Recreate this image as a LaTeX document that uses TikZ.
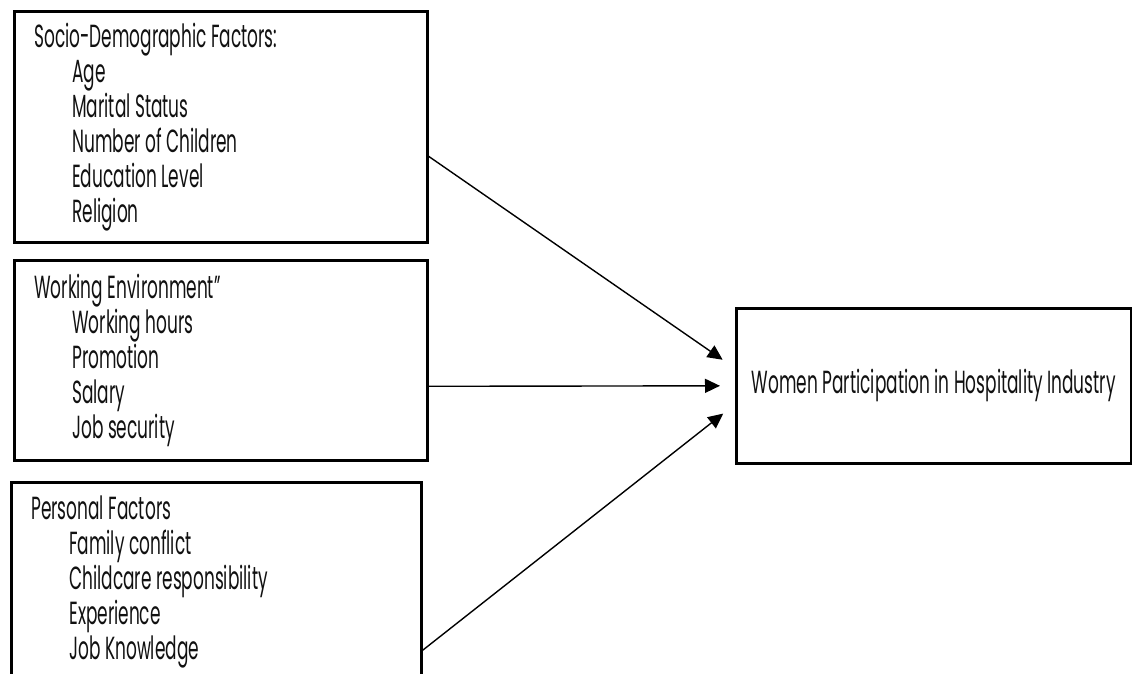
\documentclass[tikz,border=0pt]{standalone}
\usepackage{fontspec}
\setmainfont{Poppins}[FakeStretch=0.53]
\usetikzlibrary{arrows.meta}
\usetikzlibrary{positioning}
\definecolor{ln}{HTML}{000000}
\definecolor{tx}{HTML}{111111}

\newcommand{\natsp}{\spaceskip=\fontdimen2\font\relax}
\newcommand{\ind}{\hspace*{19pt}}

\tikzset{
  factor/.style={draw=ln, line width=1.3pt, anchor=north west, align=left,
    text width=186.5pt, inner xsep=10pt, minimum height=100pt,
    text=tx, font=\fontsize{16}{17.5}\selectfont,
    execute at begin node=\natsp},
  outcome/.style={draw=ln, line width=1.3pt, anchor=north west,
    minimum width=197.5pt, minimum height=77.5pt,
    text=tx, font=\fontsize{16}{17.5}\selectfont},
  arr/.style={draw=ln, line width=0.7pt, shorten >=7.5pt,
    -{Triangle[length=7.5pt, width=7pt]}}
}

\begin{document}
\begin{tikzpicture}[x=0.5pt, y=-0.5pt]

  \clip (0,0) rectangle (1132,674);

  \node[factor, minimum height=115.5pt] (soc) at (13,10) {Socio-Demographic Factors:\\
    \ind Age\\
    \ind Marital Status\\
    \ind Number of Children\\
    \ind Education Level\\
    \ind Religion};

  \node[factor] (wenv) at (13,259) {Working Environment''\\
    \ind Working hours\\
    \ind Promotion\\
    \ind Salary\\
    \ind Job security};

  \node[factor, text width=185pt] (pers) at (10,481) {Personal Factors\\
    \ind Family conflict\\
    \ind Childcare responsibility\\
    \ind Experience\\
    \ind Job Knowledge};

  \node[outcome] (wpi) at (735,307) {Women Participation in Hospitality Industry};

  \draw[arr] ([yshift=-14.75pt]soc.east) -- ([yshift=8.75pt]wpi.west);
  \draw[arr] ([yshift=-13pt]wenv.east) -- (wpi.west);
  \draw[arr] ([yshift=-34pt]pers.east) -- ([yshift=-9.25pt]wpi.west);

\end{tikzpicture}
\end{document}
